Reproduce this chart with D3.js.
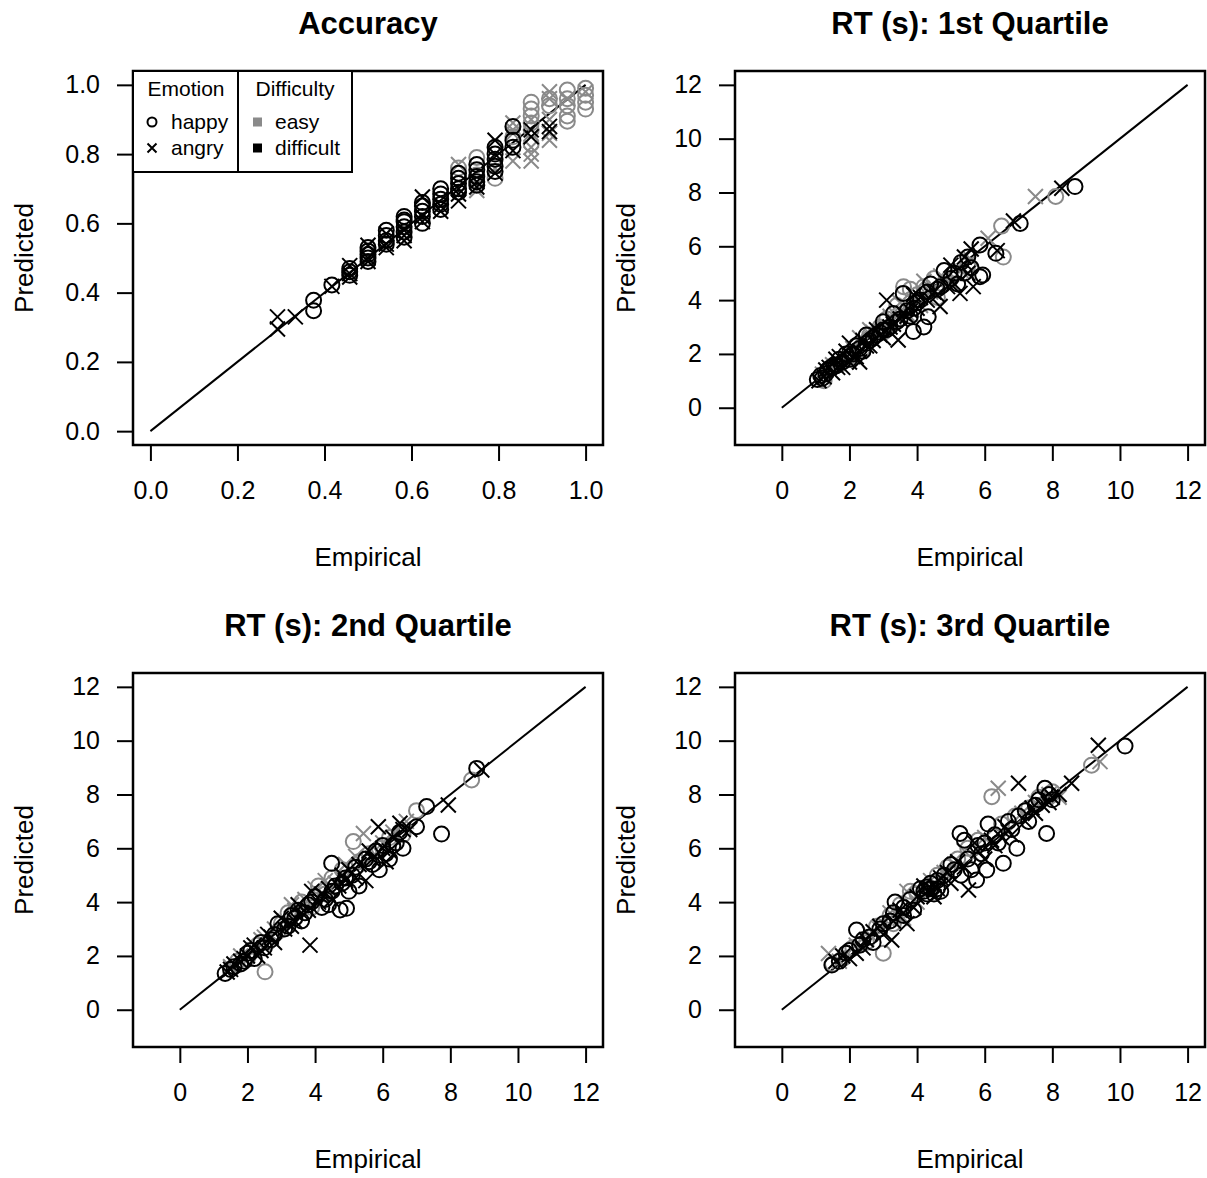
<!DOCTYPE html>
<html>
<head>
<meta charset="utf-8">
<script src="https://cdn.jsdelivr.net/npm/d3@7"></script>
<style>
  html, body { margin: 0; padding: 0; background: #fff; }
  svg { display: block; font-family: "Liberation Sans", Arial, Helvetica, sans-serif; }
</style>
</head>
<body>
<script>
// ---- Data: [empirical, predicted] pairs per emotion x difficulty cell ----

// Accuracy
const accHappyEasy = [[0.708,0.76],[0.75,0.79],[0.75,0.74],[0.792,0.73],[0.833,0.85],[0.875,0.95],[0.875,0.93],[0.875,0.91],[0.875,0.89],[0.875,0.87],[0.875,0.83],[0.917,0.96],[0.917,0.94],[0.958,0.985],[0.958,0.96],[0.958,0.94],[0.958,0.91],[0.958,0.895],[1.0,0.99],[1.0,0.97],[1.0,0.95],[1.0,0.93]];
const accAngryEasy = [[0.708,0.77],[0.75,0.695],[0.792,0.76],[0.833,0.89],[0.833,0.87],[0.833,0.86],[0.833,0.78],[0.875,0.90],[0.875,0.82],[0.875,0.80],[0.875,0.78],[0.917,0.98],[0.917,0.96],[0.917,0.90],[0.917,0.86],[0.917,0.84],[0.958,0.96],[1.0,0.98]];
const accHappyDifficult = [[0.375,0.378],[0.375,0.348],[0.417,0.422],[0.458,0.46],[0.458,0.47],[0.458,0.45],[0.5,0.52],[0.5,0.50],[0.5,0.51],[0.5,0.53],[0.5,0.49],[0.542,0.58],[0.542,0.565],[0.542,0.55],[0.542,0.54],[0.583,0.62],[0.583,0.605],[0.583,0.59],[0.583,0.61],[0.583,0.575],[0.583,0.56],[0.625,0.65],[0.625,0.635],[0.625,0.66],[0.625,0.62],[0.625,0.60],[0.667,0.70],[0.667,0.685],[0.667,0.67],[0.667,0.655],[0.667,0.64],[0.708,0.73],[0.708,0.715],[0.708,0.745],[0.708,0.70],[0.708,0.69],[0.75,0.77],[0.75,0.755],[0.75,0.735],[0.75,0.72],[0.75,0.71],[0.792,0.80],[0.792,0.785],[0.792,0.765],[0.792,0.75],[0.792,0.82],[0.833,0.88],[0.833,0.84],[0.833,0.82]];
const accAngryDifficult = [[0.292,0.33],[0.292,0.295],[0.333,0.33],[0.417,0.418],[0.458,0.478],[0.458,0.455],[0.458,0.445],[0.5,0.537],[0.5,0.50],[0.5,0.49],[0.542,0.57],[0.542,0.54],[0.542,0.53],[0.583,0.58],[0.583,0.565],[0.583,0.55],[0.625,0.676],[0.625,0.62],[0.625,0.605],[0.667,0.65],[0.667,0.635],[0.708,0.70],[0.708,0.685],[0.708,0.665],[0.75,0.72],[0.75,0.705],[0.792,0.84],[0.792,0.80],[0.792,0.745],[0.833,0.81],[0.875,0.87],[0.875,0.85],[0.917,0.88],[0.917,0.865]];

// RT (s): 1st quartile
const q1HappyEasy = [[1.25,1.0],[1.4,1.45],[1.7,1.6],[2.0,1.9],[2.2,2.3],[2.4,2.2],[2.6,2.7],[2.9,3.0],[3.1,3.3],[3.3,3.1],[3.4,3.8],[3.6,4.5],[3.8,4.4],[4.0,4.2],[4.2,4.5],[4.5,4.8],[4.9,4.7],[5.2,5.0],[5.5,5.3],[6.5,6.75],[6.55,5.6],[8.1,7.85],[4.6,4.1],[3.0,2.8]];
const q1AngryEasy = [[1.2,1.25],[1.5,1.6],[1.9,1.7],[2.1,2.2],[2.3,2.6],[2.5,2.3],[2.7,2.8],[3.0,3.0],[3.2,3.4],[3.5,3.9],[3.7,3.5],[3.9,4.0],[4.2,4.7],[4.4,4.3],[4.7,4.9],[5.0,4.6],[5.3,5.1],[5.6,5.5],[7.5,7.85],[6.1,6.3],[2.6,2.9],[4.1,3.8]];
const q1HappyDifficult = [[1.05,1.05],[1.15,1.2],[1.3,1.25],[1.45,1.5],[1.6,1.55],[1.8,1.7],[1.9,2.0],[2.1,2.0],[2.3,2.2],[2.5,2.4],[2.7,2.6],[2.9,2.8],[3.0,3.2],[3.2,3.0],[3.3,3.5],[3.5,3.3],[3.59,4.25],[3.89,2.83],[3.9,3.7],[4.0,3.9],[4.33,3.38],[4.4,4.6],[4.6,4.4],[4.8,5.1],[5.0,4.8],[5.2,4.6],[5.4,5.0],[5.6,5.2],[5.86,4.87],[5.94,4.93],[5.86,6.05],[6.33,5.74],[7.05,6.85],[8.67,8.22],[3.8,3.4],[4.2,3.0],
  [1.2,1.1],[1.35,1.4],[1.55,1.6],[1.7,1.8],[2.0,1.8],[2.2,2.3],[2.4,2.1],[2.6,2.5],[2.8,2.7],[3.1,2.9],[3.4,3.2],[3.7,3.6],[4.1,4.0],[4.3,4.3],[4.7,4.5],[5.1,5.0],[5.3,5.4],[5.5,5.6],[2.5,2.7],[3.0,2.9]];
const q1AngryDifficult = [[1.1,1.0],[1.3,1.4],[1.5,1.3],[1.7,1.9],[1.8,1.5],[2.0,2.4],[2.2,1.9],[2.4,2.5],[2.6,2.3],[2.8,2.9],[3.1,4.0],[3.0,2.6],[3.3,3.1],[3.44,2.52],[3.6,3.5],[3.8,3.6],[4.1,4.1],[4.5,4.3],[4.68,3.76],[5.0,5.3],[5.27,4.25],[5.4,5.6],[5.66,4.5],[5.6,5.9],[6.37,5.84],[6.85,6.94],[8.28,8.16],[4.9,4.5],[2.3,1.7],[1.6,1.8],
  [1.25,1.15],[1.4,1.5],[1.65,1.5],[1.9,2.1],[2.1,1.9],[2.3,2.1],[2.5,2.3],[2.7,2.5],[2.9,2.7],[3.2,3.0],[3.5,3.3],[3.7,3.4],[4.0,3.7],[4.3,4.0],[4.6,4.2],[5.1,4.6],[5.5,5.0],[3.9,4.2],[2.0,1.7]];

// RT (s): 2nd quartile
const q2HappyEasy = [[1.7,1.8],[2.0,1.9],[2.3,2.4],[2.52,1.41],[2.6,2.5],[2.9,2.9],[3.2,3.6],[3.4,3.4],[3.6,4.0],[3.9,3.8],[4.1,4.6],[4.3,4.3],[4.5,4.9],[4.8,5.2],[5.13,6.25],[5.3,5.5],[5.6,5.8],[5.9,6.0],[6.2,6.4],[6.6,6.5],[7.0,7.4],[8.63,8.54],[3.0,3.2]];
const q2AngryEasy = [[1.5,1.6],[1.8,2.0],[2.2,2.2],[2.5,2.7],[2.8,3.0],[3.1,3.3],[3.4,3.7],[3.7,4.1],[4.0,4.5],[4.3,4.8],[4.6,4.7],[4.9,5.4],[5.2,5.7],[5.43,6.55],[5.8,5.6],[6.0,6.2],[6.3,6.6],[6.7,7.0],[3.3,3.9],[2.4,2.6]];
const q2HappyDifficult = [[1.34,1.35],[1.5,1.5],[1.8,1.7],[2.0,2.1],[2.2,1.9],[2.4,2.5],[2.7,2.6],[2.9,3.2],[3.1,3.0],[3.3,3.5],[3.5,3.7],[3.8,3.9],[4.0,4.2],[4.2,3.8],[4.49,5.44],[4.6,4.6],[4.74,3.71],[4.93,3.77],[4.9,4.9],[5.1,5.0],[5.5,5.6],[5.7,5.4],[5.9,5.2],[6.0,6.1],[6.2,5.6],[6.4,6.2],[6.6,6.0],[7.0,6.8],[7.3,7.55],[7.74,6.53],[8.78,8.97],[5.3,4.6],[3.6,3.3],
  [1.6,1.6],[1.9,1.8],[2.1,2.2],[2.5,2.3],[2.8,2.8],[3.2,3.1],[3.4,3.4],[3.7,3.6],[3.9,4.0],[4.3,4.1],[4.5,4.4],[4.8,4.7],[5.2,5.3],[5.6,5.5],[5.8,5.9],[6.1,5.8],[6.3,6.1],[6.5,6.6],[4.4,3.9],[5.0,4.4]];
const q2AngryDifficult = [[1.4,1.4],[1.6,1.7],[1.9,1.9],[2.1,2.3],[2.3,2.0],[2.6,2.8],[2.8,2.5],[3.0,3.4],[3.3,3.1],[3.5,3.9],[3.85,2.4],[3.9,4.4],[4.1,4.0],[4.4,4.5],[4.7,4.6],[5.0,5.2],[5.2,4.9],[5.5,4.8],[5.6,5.9],[5.87,6.8],[6.1,5.5],[6.3,6.4],[6.51,6.93],[6.8,6.7],[7.94,7.61],[8.93,8.91],[4.8,5.0],[2.5,2.3],
  [1.5,1.5],[1.8,1.8],[2.0,2.0],[2.2,2.4],[2.4,2.2],[2.7,2.7],[3.1,3.0],[3.4,3.3],[3.6,3.6],[3.8,3.7],[4.2,4.3],[4.5,4.1],[4.9,4.8],[5.3,5.4],[5.7,5.6],[6.0,6.0],[6.2,5.9],[6.6,6.7]];

// RT (s): 3rd quartile
const q3HappyEasy = [[1.5,1.7],[1.8,1.9],[2.1,2.3],[2.5,2.5],[2.8,3.1],[3.0,2.1],[3.2,3.5],[3.5,3.9],[3.8,4.4],[4.0,4.3],[4.3,4.5],[4.6,5.0],[4.9,5.3],[5.2,5.6],[5.5,6.0],[5.8,6.3],[6.21,7.92],[6.5,6.9],[6.9,7.2],[7.3,7.5],[7.6,7.9],[8.0,8.1],[9.16,9.09],[3.3,3.2]];
const q3AngryEasy = [[1.38,2.09],[1.7,1.8],[2.2,2.4],[2.6,2.8],[2.9,3.0],[3.2,3.6],[3.5,3.4],[3.7,4.4],[4.0,4.0],[4.4,4.8],[4.8,5.1],[5.1,5.4],[5.4,5.9],[5.7,5.7],[6.0,6.4],[6.4,8.23],[6.7,6.6],[7.1,7.3],[7.5,7.7],[7.9,8.0],[8.2,7.9],[9.41,9.22],[3.6,3.4]];
const q3HappyDifficult = [[1.48,1.66],[1.9,2.1],[2.21,2.96],[2.3,2.4],[2.6,2.7],[2.9,3.0],[3.2,3.3],[3.35,4.0],[3.6,3.5],[3.8,4.1],[4.1,4.5],[4.28,4.56],[4.4,4.7],[4.6,4.5],[4.8,5.0],[5.0,5.4],[5.27,6.55],[5.4,6.3],[5.6,5.2],[5.76,4.82],[5.9,5.8],[6.06,5.19],[6.3,6.5],[6.55,5.44],[6.7,7.0],[6.95,6.0],[7.2,7.4],[7.5,7.6],[7.78,8.23],[7.83,6.55],[8.0,7.8],[10.15,9.8],[4.2,4.4],[4.5,4.3],[6.1,6.9],
  [1.7,1.8],[2.0,2.2],[2.4,2.6],[2.7,2.5],[3.0,3.2],[3.3,3.6],[3.6,3.8],[3.9,3.7],[4.3,4.3],[4.4,4.5],[4.6,4.8],[4.7,4.4],[5.1,5.2],[5.3,5.0],[5.5,5.6],[5.8,6.1],[6.0,6.2],[6.4,6.2],[6.8,6.7],[7.0,7.2],[7.3,7.0],[7.6,7.8],[7.9,8.0]];
const q3AngryDifficult = [[1.6,1.8],[2.0,1.9],[2.4,2.3],[2.7,2.9],[3.0,2.8],[3.25,2.59],[3.5,3.7],[3.9,3.8],[4.2,4.6],[4.5,4.2],[4.7,4.9],[5.0,4.7],[5.2,5.5],[5.52,4.45],[5.7,6.2],[6.0,5.6],[6.3,6.1],[6.6,6.8],[7.0,8.42],[7.2,7.0],[7.5,7.3],[7.9,7.7],[8.2,8.0],[8.57,8.42],[9.36,9.83],[3.7,3.2],[6.8,6.5],
  [1.8,2.0],[2.2,2.1],[2.5,2.6],[2.9,3.1],[3.3,3.3],[3.6,3.6],[4.0,4.2],[4.3,4.4],[4.6,4.5],[4.9,5.1],[5.4,5.3],[5.8,5.9],[6.2,6.3],[6.5,6.4],[7.4,7.5],[7.7,7.6],[8.0,7.9]];

// Axis ticks and titles
const accTicks = [0, 0.2, 0.4, 0.6, 0.8, 1.0];
const rtTicks = [0, 2, 4, 6, 8, 10, 12];
const panelTitles = ["Accuracy", "RT (s): 1st Quartile", "RT (s): 2nd Quartile", "RT (s): 3rd Quartile"];
const emotionLabels = ["happy", "angry"];
const difficultyLabels = ["easy", "difficult"];

// ---- Drawing ----
const W = 1207, H = 1178;
const GRAY = "#8a8a8a", BLACK = "#000";
const FONT = 25;
const PT_R = 7.5;

const svg = d3.select("body").append("svg").attr("width", W).attr("height", H);

const panels = [
  { title: panelTitles[0], col: 0, row: 0, lim: [0, 1], ticks: accTicks, fmt: d3.format(".1f"),
    groups: [[accHappyEasy, "o", GRAY], [accAngryEasy, "x", GRAY], [accHappyDifficult, "o", BLACK], [accAngryDifficult, "x", BLACK]], legend: true },
  { title: panelTitles[1], col: 1, row: 0, lim: [-0.87, 12], ticks: rtTicks, fmt: d3.format("d"),
    groups: [[q1HappyEasy, "o", GRAY], [q1AngryEasy, "x", GRAY], [q1HappyDifficult, "o", BLACK], [q1AngryDifficult, "x", BLACK]] },
  { title: panelTitles[2], col: 0, row: 1, lim: [-0.87, 12], ticks: rtTicks, fmt: d3.format("d"),
    groups: [[q2HappyEasy, "o", GRAY], [q2AngryEasy, "x", GRAY], [q2HappyDifficult, "o", BLACK], [q2AngryDifficult, "x", BLACK]] },
  { title: panelTitles[3], col: 1, row: 1, lim: [-0.87, 12], ticks: rtTicks, fmt: d3.format("d"),
    groups: [[q3HappyEasy, "o", GRAY], [q3AngryEasy, "x", GRAY], [q3HappyDifficult, "o", BLACK], [q3AngryDifficult, "x", BLACK]] }
];

// plot box inside each 602px cell
const BOX = { left: 133, right: 603, top: 71, bottom: 445 };
const CELL = 602;

function expand(lim) { const d = (lim[1] - lim[0]) * 0.04; return [lim[0] - d, lim[1] + d]; }

function drawSymbol(g, type, x, y, color, r) {
  if (type === "o") {
    g.append("circle").attr("cx", x).attr("cy", y).attr("r", r)
      .attr("fill", "none").attr("stroke", color).attr("stroke-width", 2);
  } else {
    g.append("path").attr("d", `M${x - r},${y - r}L${x + r},${y + r}M${x - r},${y + r}L${x + r},${y - r}`)
      .attr("fill", "none").attr("stroke", color).attr("stroke-width", 2);
  }
}

panels.forEach(p => {
  const ox = p.col * CELL, oy = p.row * CELL;
  const g = svg.append("g").attr("transform", `translate(${ox},${oy})`);
  const dom = expand(p.lim);
  const x = d3.scaleLinear().domain(dom).range([BOX.left, BOX.right]);
  const y = d3.scaleLinear().domain(dom).range([BOX.bottom, BOX.top]);

  // axes (ticks + labels, no baseline: the box supplies it)
  const xAxis = g.append("g").attr("transform", `translate(0,${BOX.bottom})`)
    .call(d3.axisBottom(x).tickValues(p.ticks).tickFormat(p.fmt).tickSize(16).tickPadding(20));
  const yAxis = g.append("g").attr("transform", `translate(${BOX.left},0)`)
    .call(d3.axisLeft(y).tickValues(p.ticks).tickFormat(p.fmt).tickSize(16).tickPadding(17));
  [xAxis, yAxis].forEach(a => {
    a.select(".domain").remove();
    a.selectAll("line").attr("stroke", "#000").attr("stroke-width", 2);
    a.selectAll("text").attr("font-size", FONT).attr("font-family", null).attr("fill", "#000");
  });

  // identity line
  const lo = p.lim[0] < 0 ? 0 : p.lim[0];
  g.append("line").attr("x1", x(lo)).attr("y1", y(lo)).attr("x2", x(p.lim[1])).attr("y2", y(p.lim[1]))
    .attr("stroke", "#000").attr("stroke-width", 2);

  // points
  const pts = g.append("g");
  p.groups.forEach(([data, type, color]) => {
    data.forEach(d => drawSymbol(pts, type, x(d[0]), y(d[1]), color, PT_R));
  });

  // frame
  g.append("rect").attr("x", BOX.left).attr("y", BOX.top)
    .attr("width", BOX.right - BOX.left).attr("height", BOX.bottom - BOX.top)
    .attr("fill", "none").attr("stroke", "#000").attr("stroke-width", 2.5);

  // titles
  const cx = (BOX.left + BOX.right) / 2, cy = (BOX.top + BOX.bottom) / 2;
  g.append("text").attr("x", cx).attr("y", 34).attr("text-anchor", "middle")
    .attr("font-size", 31).attr("font-weight", "bold").text(p.title);
  g.append("text").attr("x", cx).attr("y", 566).attr("text-anchor", "middle")
    .attr("font-size", 26).text("Empirical");
  g.append("text").attr("transform", `translate(33,${cy}) rotate(-90)`).attr("text-anchor", "middle")
    .attr("font-size", 26).text("Predicted");

  if (p.legend) {
    const lg = g.append("g");
    const L = { x0: BOX.left, x1: 238, x2: 352, y0: BOX.top, y1: 172 };
    lg.append("rect").attr("x", L.x0).attr("y", L.y0).attr("width", L.x2 - L.x0).attr("height", L.y1 - L.y0)
      .attr("fill", "#fff").attr("stroke", "#000").attr("stroke-width", 2);
    lg.append("line").attr("x1", L.x1).attr("y1", L.y0).attr("x2", L.x1).attr("y2", L.y1)
      .attr("stroke", "#000").attr("stroke-width", 2);
    lg.append("text").attr("x", 186).attr("y", 96).attr("text-anchor", "middle").attr("font-size", 21).text("Emotion");
    lg.append("text").attr("x", 295).attr("y", 96).attr("text-anchor", "middle").attr("font-size", 21).text("Difficulty");
    const rowsY = [122, 148];
    emotionLabels.forEach((lab, i) => {
      drawSymbol(lg, i === 0 ? "o" : "x", 152, rowsY[i], "#000", 4.5);
      lg.append("text").attr("x", 171).attr("y", rowsY[i] + 7).attr("font-size", 21).text(lab);
    });
    difficultyLabels.forEach((lab, i) => {
      lg.append("rect").attr("x", 253).attr("y", rowsY[i] - 4.5).attr("width", 9).attr("height", 9)
        .attr("fill", i === 0 ? GRAY : BLACK);
      lg.append("text").attr("x", 275).attr("y", rowsY[i] + 7).attr("font-size", 21).text(lab);
    });
  }
});
</script>
</body>
</html>
